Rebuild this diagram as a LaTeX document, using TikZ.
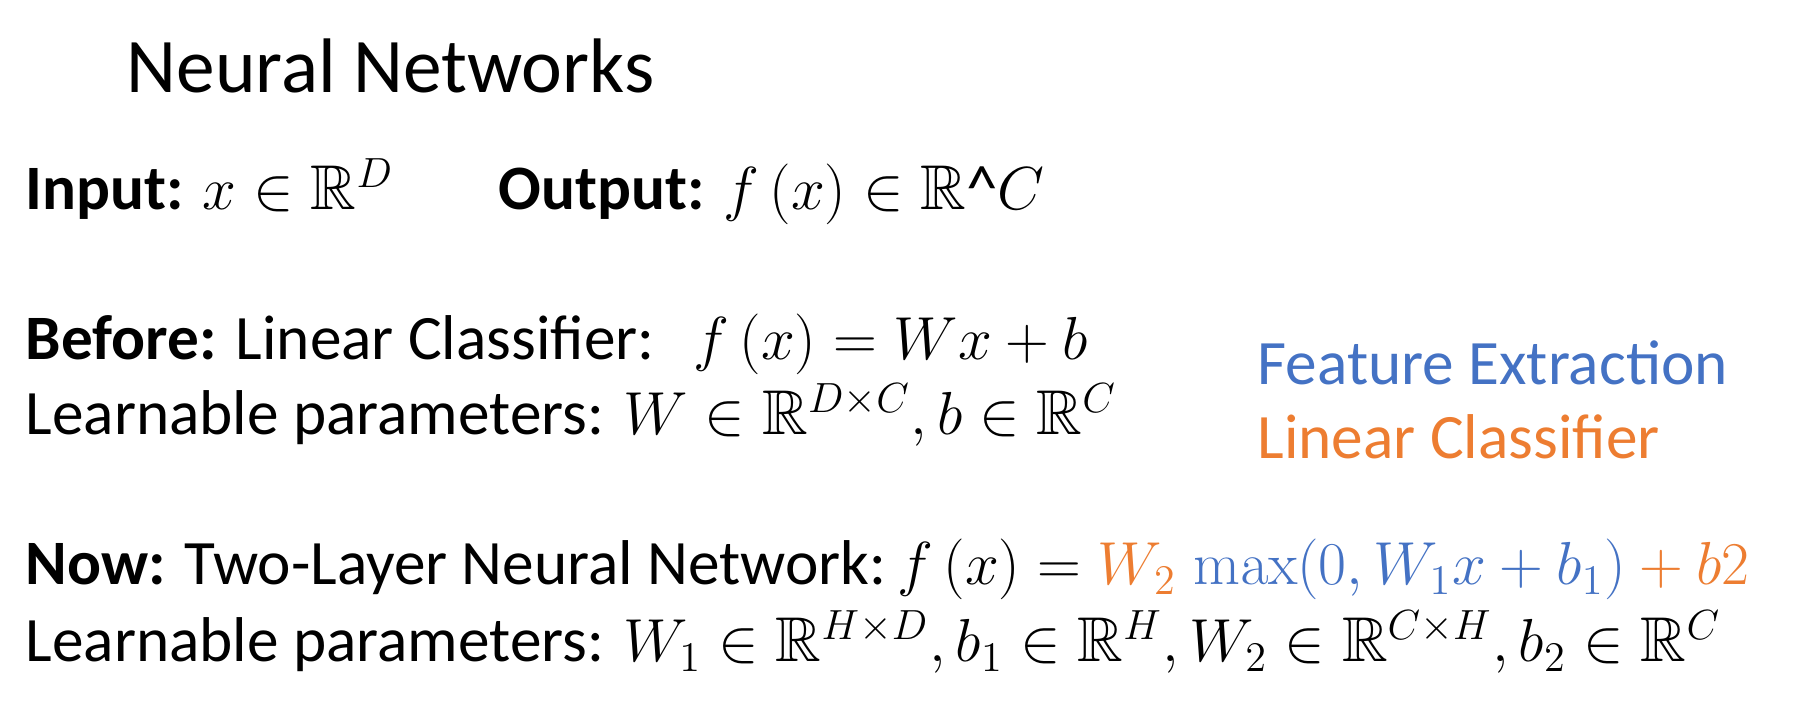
\documentclass[tikz,border=0pt]{standalone}
\usepackage{amssymb}
\usepackage[no-math]{fontspec}
\setmainfont{Carlito}
\usetikzlibrary{positioning}

\definecolor{featblue}{HTML}{4472C4}
\definecolor{clsorange}{HTML}{ED7D31}

\tikzset{
	line/.style = {anchor = base west, inner sep = 0pt, font = \fontsize{18}{21.6}\selectfont},
	heading/.style = {anchor = base west, inner sep = 0pt, font = \fontsize{22}{26}\selectfont}
}

\begin{document}
\begin{tikzpicture}[> = latex]

	% Page frame

	\useasboundingbox [fill = white] (0, 0) rectangle (18.18, 7.2);

	% Title

	\node [heading] (title) at (1.26, 6.27) {Neural Networks};

	% Input and output

	\node [line] (input) at (0.25, 5.10) {\textbf{Input:} $x \in \mathbb{R}^D$};
	\node [line] (output) at (4.98, 5.10) {\textbf{Output:} $f\,(x) \in \mathbb{R}$\textasciicircum$C$};

	% Linear classifier

	\node [line] (before) at (0.25, 3.60) {\textbf{Before:} Linear Classifier:};
	\node [line] (beforeEq) at (6.93, 3.60) {$f\,(x) = Wx + b$};
	\node [line] (learnA) at (0.25, 2.85) {Learnable parameters:};
	\node [line] (learnAEq) at (6.23, 2.85) {$W \in \mathbb{R}^{D \times C}, b \in \mathbb{R}^C$};

	% Legend

	\node [line, text = featblue] (feat) at (12.57, 3.35) {Feature Extraction};
	\node [line, text = clsorange] (lincls) at (12.57, 2.61) {Linear Classifier};

	% Two-layer network

	\node [line] (now) at (0.25, 1.35) {\textbf{Now:} Two-Layer Neural Network:};
	\node [line] (nowEq) at (8.97, 1.35) {$f\,(x) = {\color{clsorange}W_2}\; {\color{featblue}\max(0, W_1 x + b_1)} {\color{clsorange}{} + b2}$};
	\node [line] (learnB) at (0.25, 0.58) {Learnable parameters: $W_1 \in \mathbb{R}^{H \times D}, b_1 \in \mathbb{R}^H, W_2 \in \mathbb{R}^{C \times H}, b_2 \in \mathbb{R}^C$};

\end{tikzpicture}
\end{document}
